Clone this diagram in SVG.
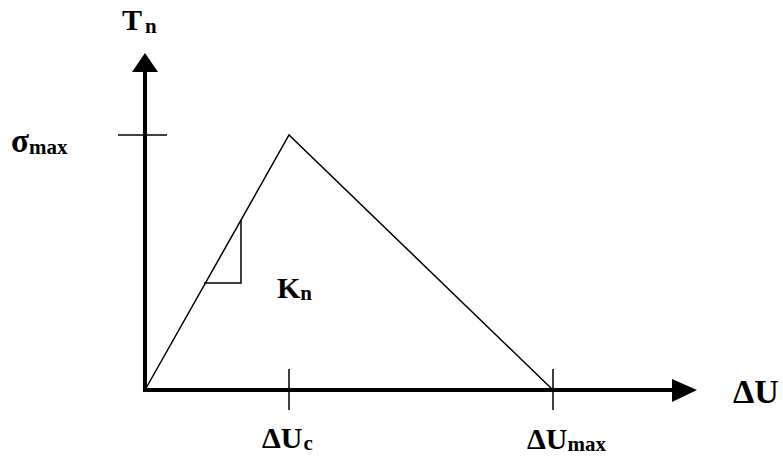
<svg xmlns="http://www.w3.org/2000/svg" width="783" height="458" viewBox="0 0 783 458">
<style>
.lbl{font-family:"Liberation Serif","Times New Roman",serif;font-weight:bold;fill:#000;font-size:30px}
.sub{font-size:21px}
.thin{stroke:#000;stroke-width:1.5;fill:none}
.axis{stroke:#000;stroke-width:4;fill:none}
</style>
<rect width="783" height="458" fill="#fff"/>
<g id="connectors">
<line class="axis" x1="145" y1="392" x2="145" y2="70"/>
<polygon points="145,53 132,72 158,72" fill="#000"/>
<line class="axis" x1="143" y1="390" x2="674" y2="390"/>
<polygon points="697,390 672,379 672,402" fill="#000"/>
<line class="thin" x1="118" y1="135" x2="167" y2="135"/>
<line class="thin" x1="289" y1="369" x2="289" y2="410"/>
<line class="thin" x1="553" y1="369" x2="553" y2="410"/>
<polyline class="thin" points="145,390 289,135 553,390"/>
<polyline class="thin" points="204,283 241,283 241,220"/>
</g>
<g id="label-Tn"><text class="lbl" x="122" y="30">T<tspan class="sub" dx="3" dy="3">n</tspan></text></g>
<g id="label-smax"><text class="lbl" x="11" y="152" style="font-size:33px">σ<tspan class="sub" dy="2">max</tspan></text></g>
<g id="label-Kn"><text class="lbl" x="277" y="298">K<tspan class="sub" dy="2">n</tspan></text></g>
<g id="label-dUc"><text class="lbl" x="262" y="448">ΔU<tspan class="sub" dx="1" dy="2">c</tspan></text></g>
<g id="label-dUmax"><text class="lbl" x="527" y="449">ΔU<tspan class="sub" dy="2">max</tspan></text></g>
<g id="label-dU"><text class="lbl" x="733" y="403" style="font-size:34px">ΔU</text></g>
</svg>
